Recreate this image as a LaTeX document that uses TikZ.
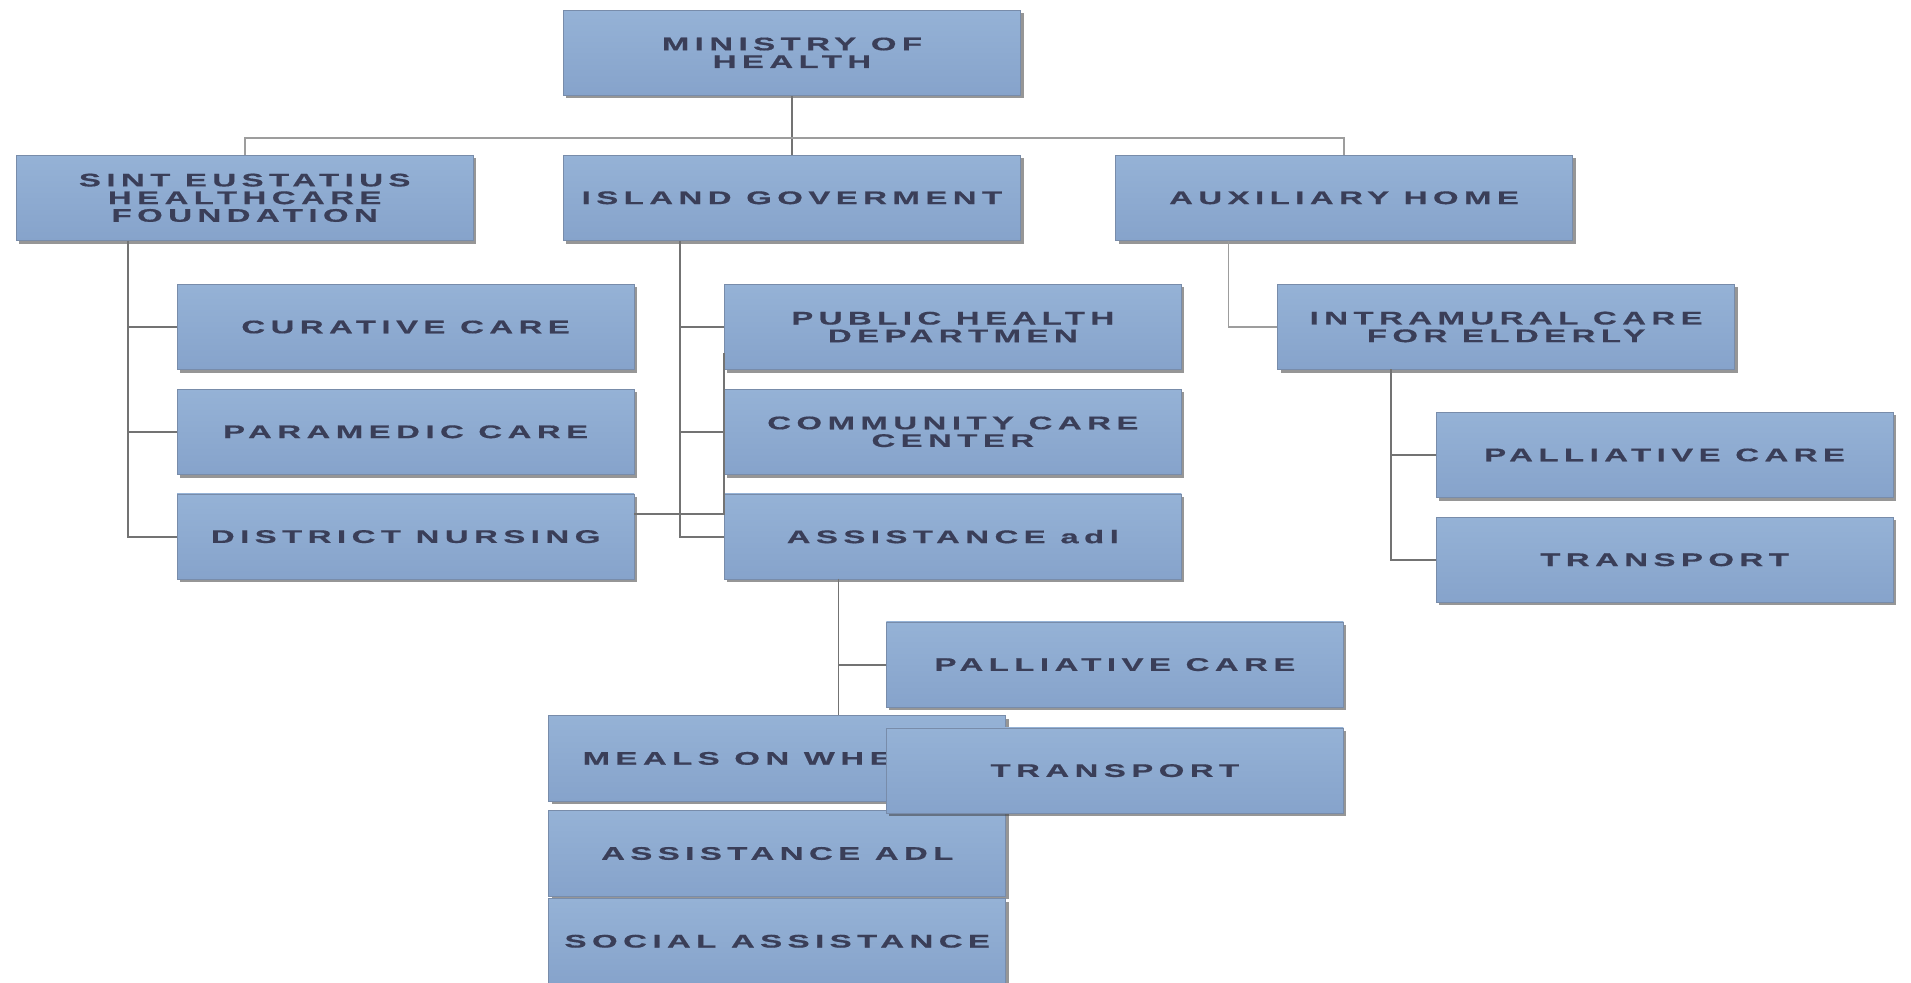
\documentclass[tikz,border=0pt]{standalone}
\usepackage{fontspec}
\usetikzlibrary{shadows}
\newfontfamily\boxfont[FakeStretch=1.8,LetterSpace=30,FakeBold=0.6]{Liberation Sans}
\definecolor{boxtop}{RGB}{149,178,214}
\definecolor{boxbot}{RGB}{134,163,203}
\definecolor{boxline}{RGB}{120,140,170}
\definecolor{txt}{RGB}{58,62,88}
\definecolor{conn}{RGB}{115,115,115}
\tikzset{
  orgbox/.style={draw=boxline, line width=0.6pt, top color=boxtop, bottom color=boxbot,
    minimum width=375pt, minimum height=70pt, anchor=north west, inner sep=2pt,
    align=center, text=txt,
    font=\boxfont\bfseries\fontsize{15}{14.5}\selectfont,
    drop shadow={shadow xshift=2.5pt, shadow yshift=-2.5pt, opacity=0.55, fill=black!75}},
  link/.style={draw=conn, line width=1.6pt},
  buslink/.style={draw=conn!70, line width=1.6pt}
}
\begin{document}
\begin{tikzpicture}[x=1pt,y=-1pt]
\useasboundingbox[fill=white] (0,0) rectangle (1568,806);
% connector points
\coordinate (s1) at (105,198);
\coordinate (i1) at (558,198);
\coordinate (a1) at (1008,198);
\coordinate (n1) at (1141,303);
\coordinate (b1) at (688,475);
\coordinate (x1) at (594,290);
% boxes
\node[orgbox] (min) at (462,8) {MINISTRY OF\\HEALTH};
\node[orgbox] (sehf) at (13,127) {SINT EUSTATIUS\\HEALTHCARE\\FOUNDATION};
\node[orgbox] (isl) at (462,127) {ISLAND GOVERMENT};
\node[orgbox] (aux) at (915,127) {AUXILIARY HOME};
\node[orgbox] (cur) at (145,233) {CURATIVE CARE};
\node[orgbox] (par) at (145,319) {PARAMEDIC CARE};
\node[orgbox] (dis) at (145,405) {DISTRICT NURSING};
\node[orgbox] (pub) at (594,233) {PUBLIC HEALTH\\DEPARTMEN};
\node[orgbox] (com) at (594,319) {COMMUNITY CARE\\CENTER};
\node[orgbox] (ass) at (594,405) {ASSISTANCE adl};
\node[orgbox] (intra) at (1048,233) {INTRAMURAL CARE\\FOR ELDERLY};
\node[orgbox] (pal1) at (1178,338) {PALLIATIVE CARE};
\node[orgbox] (tr1) at (1178,424) {TRANSPORT};
\node[orgbox] (pal2) at (727,510) {PALLIATIVE CARE};
\node[orgbox] (meals) at (450,587) {MEALS ON WHEELS};
\node[orgbox] (adl) at (450,665) {ASSISTANCE ADL};
\node[orgbox] (soc) at (450,737) {SOCIAL ASSISTANCE};
\node[orgbox] (tr2) at (727,597) {TRANSPORT};
% links
\draw[link] (min.south) -- (isl.north);
\draw[buslink] (sehf.north) -- ++(0,-14) -| (aux.north);
\draw[link] (s1) |- (cur.west);
\draw[link] (s1) |- (par.west);
\draw[link] (s1) |- (dis.west);
\draw[link] (i1) |- (pub.west);
\draw[link] (i1) |- (com.west);
\draw[link] (i1) |- (ass.west);
\draw[link] (dis.east |- 0,422) -| (x1);
\draw[buslink] (a1) |- (intra.west);
\draw[link] (n1) |- (pal1.west);
\draw[link] (n1) |- (tr1.west);
\draw[link] (b1) -- (b1 |- meals.north);
\draw[link] (b1) |- (pal2.west);
\end{tikzpicture}
\end{document}
